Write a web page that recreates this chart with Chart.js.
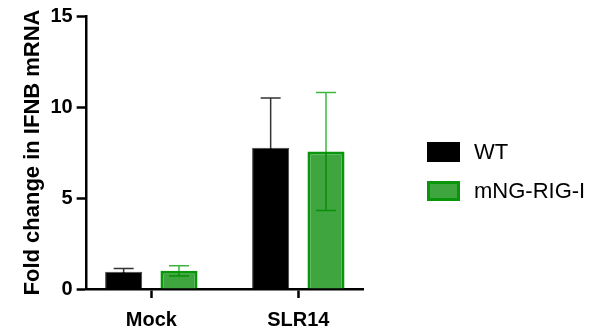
<!DOCTYPE html>
<html>
<head>
<meta charset="utf-8">
<title>Fold change in IFNB mRNA</title>
<script src="https://cdn.jsdelivr.net/npm/chart.js@4.4.1/dist/chart.umd.min.js"></script>
<style>
    body { margin: 0; background: #ffffff; }
    #grafico { display: block; }
</style>
</head>
<body>
<canvas id="grafico" width="599" height="335"></canvas>
<script>
var categorie = ['Mock', 'SLR14'];
var serie = ['WT', 'mNG-RIG-I'];
var valoriWT = [0.95, 7.76];
var erroriWT = [0.18, 2.74];
var valoriRIG = [1.0, 7.55];
var erroriRIG = [0.28, 3.24];
var tickY = [0, 5, 10, 15];

var nero = '#000000';
var verde = '#3fa53f';
var verdeBordo = '#0a960a';

function puntiDa(valori) {
    var punti = [];
    for (var i = 0; i < valori.length; i++) {
        punti.push({ x: i, y: valori[i] });
    }
    return punti;
}

// barre di errore (SD) disegnate sopra le barre
var barreErrore = {
    id: 'barreErrore',
    afterDatasetsDraw: function (chart) {
        var ctx = chart.ctx;
        var scalaY = chart.scales.y;
        chart.data.datasets.forEach(function (ds, d) {
            var meta = chart.getDatasetMeta(d);
            meta.data.forEach(function (barra, i) {
                var v = ds.data[i].y;
                var e = ds.errori[i];
                var yAlto = scalaY.getPixelForValue(v + e);
                var yBar = scalaY.getPixelForValue(v);
                var yBasso = scalaY.getPixelForValue(v - e);
                var x = barra.x;
                ctx.save();
                ctx.lineWidth = 1.5;
                // parte sopra la barra
                ctx.strokeStyle = ds.coloreErrore;
                ctx.beginPath();
                ctx.moveTo(x, yBar);
                ctx.lineTo(x, yAlto);
                ctx.moveTo(x - 10, yAlto);
                ctx.lineTo(x + 10, yAlto);
                ctx.stroke();
                // parte dentro la barra
                ctx.strokeStyle = ds.coloreErroreDentro;
                ctx.beginPath();
                ctx.moveTo(x, yBar);
                ctx.lineTo(x, yBasso);
                ctx.moveTo(x - 10, yBasso);
                ctx.lineTo(x + 10, yBasso);
                ctx.stroke();
                ctx.restore();
            });
        });
    }
};

// legenda a destra, stile Prism
var legenda = {
    id: 'legenda',
    afterDraw: function (chart) {
        var ctx = chart.ctx;
        var x = 427;
        var y = 142;
        chart.data.datasets.forEach(function (ds, d) {
            var top = y + d * 39;
            ctx.save();
            ctx.fillStyle = ds.backgroundColor;
            ctx.fillRect(x, top, 33, 20);
            if (ds.borderWidth > 1) {
                ctx.strokeStyle = ds.borderColor;
                ctx.lineWidth = 3;
                ctx.strokeRect(x + 1.5, top + 1.5, 30, 17);
            }
            ctx.fillStyle = '#000000';
            ctx.font = '22px "Liberation Sans", Arial, sans-serif';
            ctx.textBaseline = 'middle';
            ctx.fillText(ds.label, x + 47, top + 11);
            ctx.restore();
        });
    }
};

Chart.defaults.font.family = '"Liberation Sans", Arial, sans-serif';
Chart.defaults.color = '#000000';

var grafico = new Chart(document.getElementById('grafico'), {
    type: 'bar',
    data: {
        datasets: [{
            label: serie[0],
            data: puntiDa(valoriWT),
            errori: erroriWT,
            backgroundColor: nero,
            borderColor: '#444444',
            borderWidth: 1,
            coloreErrore: '#333333',
            coloreErroreDentro: '#000000'
        }, {
            label: serie[1],
            data: puntiDa(valoriRIG),
            errori: erroriRIG,
            backgroundColor: verde,
            borderColor: verdeBordo,
            borderWidth: 3,
            coloreErrore: '#3cb83c',
            coloreErroreDentro: '#0a8f0a'
        }]
    },
    options: {
        responsive: false,
        animation: false,
        categoryPercentage: 0.753,
        barPercentage: 0.67,
        layout: {
            padding: { top: 15, right: 236, bottom: 0, left: 20 }
        },
        plugins: {
            legend: { display: false },
            tooltip: { enabled: false }
        },
        scales: {
            x: {
                type: 'linear',
                min: -0.44,
                max: 1.44,
                offset: false,
                afterBuildTicks: function (scala) {
                    scala.ticks = categorie.map(function (c, i) { return { value: i }; });
                },
                afterFit: function (scala) {
                    scala.height = 46;
                },
                grid: {
                    offset: false,
                    drawOnChartArea: false,
                    tickLength: 9,
                    tickWidth: 2.5,
                    tickColor: '#000000'
                },
                border: { color: '#000000', width: 2.5 },
                ticks: {
                    font: { size: 20, weight: 'bold' },
                    padding: 10,
                    callback: function (v) { return categorie[v]; }
                }
            },
            y: {
                min: 0,
                max: 15,
                afterBuildTicks: function (scala) {
                    scala.ticks = tickY.map(function (t) { return { value: t }; });
                },
                grid: {
                    drawOnChartArea: false,
                    tickLength: 10,
                    tickWidth: 2.5,
                    tickColor: '#000000'
                },
                border: { color: '#000000', width: 2.5 },
                ticks: {
                    font: { size: 20, weight: 'bold' },
                    padding: 4
                },
                title: {
                    display: true,
                    text: 'Fold change in IFNB mRNA',
                    font: { size: 22, weight: 'bold' },
                    padding: { top: 0, bottom: 0 }
                }
            }
        }
    },
    plugins: [barreErrore, legenda]
});
</script>
</body>
</html>
